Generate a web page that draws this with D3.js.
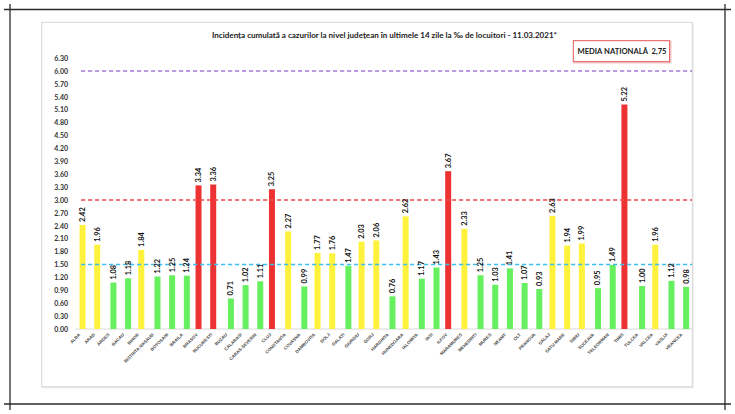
<!DOCTYPE html>
<html>
<head>
<meta charset="utf-8">
<script src="https://cdn.jsdelivr.net/npm/d3@7"></script>
<style>
  html, body { margin: 0; padding: 0; background: #ffffff; }
  svg { display: block; }
</style>
</head>
<body>
<svg id="chart" width="735" height="414"></svg>
<script>
// ---------------- DATA ----------------
const categories = ["ALBA","ARAD","ARGES","BACAU","BIHOR","BISTRITA NASAUD","BOTOSANI","BRAILA","BRASOV","BUCURESTI",
  "BUZAU","CALARASI","CARAS-SEVERIN","CLUJ","CONSTANTA","COVASNA","DAMBOVITA","DOLJ","GALATI","GIURGIU",
  "GORJ","HARGHITA","HUNEDOARA","IALOMITA","IASI","ILFOV","MARAMURES","MEHEDINTI","MURES","NEAMT",
  "OLT","PRAHOVA","SALAJ","SATU MARE","SIBIU","SUCEAVA","TELEORMAN","TIMIS","TULCEA","VALCEA",
  "VASLUI","VRANCEA"];
const values = [2.42,1.96,1.08,1.18,1.84,1.22,1.25,1.24,3.34,3.36,
  0.71,1.02,1.11,3.25,2.27,0.99,1.77,1.76,1.47,2.03,
  2.06,0.76,2.62,1.17,1.43,3.67,2.33,1.25,1.03,1.41,
  1.07,0.93,2.63,1.94,1.99,0.95,1.49,5.22,1.00,1.96,
  1.12,0.98];
const yTickValues = [0,0.3,0.6,0.9,1.2,1.5,1.8,2.1,2.4,2.7,3.0,3.3,3.6,3.9,4.2,4.5,4.8,5.1,5.4,5.7,6.0,6.3];
const referenceValues = [6.0, 3.0, 1.5];
const titleText = "Incidența cumulată a cazurilor la nivel județean în ultimele 14 zile la ‰ de locuitori - 11.03.2021*";
const averageLabel = "MEDIA NAȚIONALĂ";
const averageValue = "2,75";

// ---------------- LAYOUT / STYLE ----------------
const svg = d3.select("#chart");
const plot = { left: 75.2, right: 692, top: 58.1, bottom: 329 };
const colors = { green: "#66ef5e", yellow: "#fff23c", red: "#ec3232" };
const refColors = ["#a77ad6", "#f04a4a", "#3cc0f0"];
const seriesOffset = { red: -1.5, yellow: 0, green: 1.5 };
const fontMain = "Lato, 'Open Sans', 'DejaVu Sans', sans-serif";

function level(v) { return v > 3 ? "red" : (v >= 1.5 ? "yellow" : "green"); }

const x = d3.scaleBand().domain(categories).range([plot.left, plot.right]).paddingInner(0).paddingOuter(0);
const y = d3.scaleLinear().domain([0, 6.3]).range([plot.bottom, plot.top]);

// outer crop-mark frame
const frame = svg.append("g").attr("stroke", "#2b2b2b").attr("stroke-width", 1.3);
frame.append("line").attr("x1", 4).attr("x2", 731).attr("y1", 9.5).attr("y2", 9.5);
frame.append("line").attr("x1", 4).attr("x2", 731).attr("y1", 404).attr("y2", 404);
frame.append("line").attr("x1", 10).attr("x2", 10).attr("y1", 4).attr("y2", 410);
frame.append("line").attr("x1", 725).attr("x2", 725).attr("y1", 4).attr("y2", 410);

// inner chart box
svg.append("rect").attr("x", 42.5).attr("y", 23.5).attr("width", 650.5).attr("height", 364)
  .attr("fill", "none").attr("stroke", "#ececec").attr("stroke-width", 1.5);
svg.append("rect").attr("x", 41.7).attr("y", 22.3).attr("width", 650.6).attr("height", 364.4)
  .attr("fill", "#ffffff").attr("stroke", "#d6d6d6").attr("stroke-width", 1);

// title
svg.append("text").attr("x", 384.5).attr("y", 37.5)
  .attr("text-anchor", "middle")
  .attr("font-family", fontMain).attr("font-weight", "bold").attr("font-size", 8)
  .attr("fill", "#1a1a1a")
  .attr("textLength", 345).attr("lengthAdjust", "spacingAndGlyphs")
  .text(titleText);

// y axis (labels only)
const yAxis = d3.axisLeft(y).tickValues(yTickValues).tickFormat(d3.format(".2f")).tickSize(0).tickPadding(0);
const yg = svg.append("g").attr("transform", "translate(68,0)").call(yAxis);
yg.select(".domain").remove();
yg.selectAll("text")
  .attr("font-family", fontMain).attr("font-weight", "bold").attr("font-size", 7)
  .attr("fill", "#333333");

// baseline
svg.append("line").attr("x1", plot.left).attr("x2", plot.right)
  .attr("y1", y(0)).attr("y2", y(0)).attr("stroke", "#d9d9d9").attr("stroke-width", 1);

// x axis labels
const xAxis = d3.axisBottom(x).tickSize(0).tickPadding(0);
const xg = svg.append("g").attr("transform", `translate(0,${y(0)})`).call(xAxis);
xg.select(".domain").remove();
xg.selectAll(".tick text")
  .attr("font-family", "'Liberation Sans', Arial, sans-serif").attr("font-weight", "bold")
  .attr("font-size", 4.4).attr("fill", "#4a4a4a")
  .attr("text-anchor", "end")
  .attr("dy", null).attr("y", 0)
  .attr("transform", "translate(-2,6) rotate(-45)");

// bars
const data = categories.map((c, i) => ({ c, v: values[i], lvl: level(values[i]) }));
const barW = 6;
svg.append("g").selectAll("rect").data(data).join("rect")
  .attr("x", d => x(d.c) + x.bandwidth() / 2 + seriesOffset[d.lvl] - barW / 2)
  .attr("y", d => y(d.v))
  .attr("width", barW)
  .attr("height", d => y(0) - y(d.v))
  .attr("fill", d => colors[d.lvl]);

// reference dashed lines
svg.append("g").selectAll("line").data(referenceValues).join("line")
  .attr("x1", 81).attr("x2", plot.right)
  .attr("y1", d => y(d)).attr("y2", d => y(d))
  .attr("stroke", (d, i) => refColors[i])
  .attr("stroke-width", 1.6)
  .attr("stroke-dasharray", "4.2,2.8");

// value labels
svg.append("g").selectAll("text").data(data).join("text")
  .attr("transform", d => `translate(${x(d.c) + x.bandwidth() / 2 + seriesOffset[d.lvl] + 2.4},${y(d.v) - 3}) rotate(-90)`)
  .attr("font-family", fontMain).attr("font-weight", "bold").attr("font-size", 7.4)
  .attr("fill", "#111111")
  .text(d => d3.format(".2f")(d.v));

// national average box
const lg = svg.append("g");
lg.append("rect").attr("x", 574.2).attr("y", 41.5).attr("width", 96.3).attr("height", 21)
  .attr("fill", "none").attr("stroke", "#f4c8c8").attr("stroke-width", 2);
lg.append("rect").attr("x", 573.3).attr("y", 40.7).attr("width", 96.3).attr("height", 21)
  .attr("fill", "#ffffff").attr("stroke", "#e25b5b").attr("stroke-width", 1);
lg.append("text").attr("x", 577.5).attr("y", 54)
  .attr("font-family", fontMain).attr("font-weight", "bold").attr("font-size", 7.6)
  .attr("fill", "#1a1a1a")
  .attr("textLength", 89).attr("lengthAdjust", "spacingAndGlyphs")
  .text(averageLabel + "\u00a0\u00a0" + averageValue);
</script>
</body>
</html>
